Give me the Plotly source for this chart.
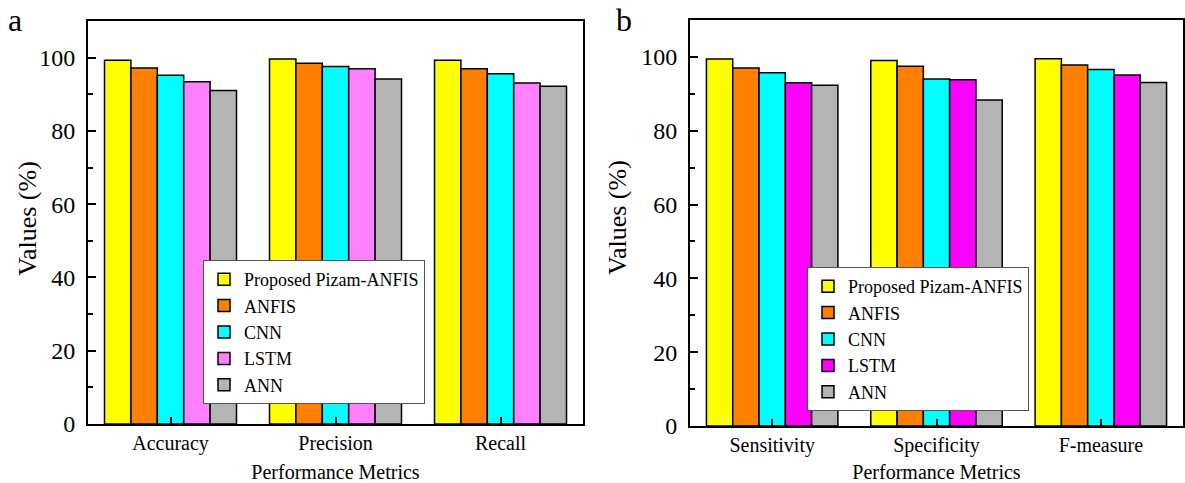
import plotly.graph_objects as go

metrics_a = ["Accuracy", "Precision", "Recall"]
metrics_b = ["Sensitivity", "Specificity", "F-measure"]
models = ["Proposed Pizam-ANFIS", "ANFIS", "CNN", "LSTM", "ANN"]

values_a = {
    "Proposed Pizam-ANFIS": [99.3, 99.6, 99.3],
    "ANFIS": [97.2, 98.5, 97.0],
    "CNN": [95.2, 97.6, 95.6],
    "LSTM": [93.4, 97.0, 93.1],
    "ANN": [91.0, 94.2, 92.2],
}
values_b = {
    "Proposed Pizam-ANFIS": [99.4, 99.0, 99.5],
    "ANFIS": [97.0, 97.5, 97.8],
    "CNN": [95.7, 94.0, 96.6],
    "LSTM": [93.0, 93.8, 95.1],
    "ANN": [92.3, 88.3, 93.1],
}

colors_a = ["#FFFF00", "#FF8000", "#00FFFF", "#FF80FF", "#B4B4B4"]
colors_b = ["#FFFF00", "#FF8000", "#00FFFF", "#FF00FF", "#B4B4B4"]

FONT = "Liberation Serif"
W, H = 1185, 483

fig = go.Figure()
for m, c in zip(models, colors_a):
    fig.add_trace(go.Bar(x=metrics_a, y=values_a[m], name=m, marker_color=c,
                         marker_line=dict(color="black", width=1.5),
                         xaxis="x", yaxis="y", legend="legend"))
for m, c in zip(models, colors_b):
    fig.add_trace(go.Bar(x=metrics_b, y=values_b[m], name=m, marker_color=c,
                         marker_line=dict(color="black", width=1.5),
                         xaxis="x2", yaxis="y2", legend="legend2"))

def xax(domain, anchor):
    return dict(domain=domain, anchor=anchor, type="category", range=[-0.5, 2.5],
                showline=True, linecolor="black", linewidth=2, mirror=True,
                ticks="inside", ticklen=7, tickwidth=2, tickcolor="black",
                tickfont=dict(family=FONT, size=20, color="black"),
                title=dict(text="Performance Metrics", font=dict(family=FONT, size=20, color="black"), standoff=12),
                showgrid=False, zeroline=False, automargin=False, layer="above traces")

def xminor(domain, anchor, overlay):
    # boundary (minor) ticks between the category groups
    return dict(domain=domain, anchor=anchor, overlaying=overlay, type="linear", range=[-0.5, 2.5],
                tickvals=[0.5, 1.5], ticks="inside", ticklen=4, tickwidth=2, tickcolor="black",
                showticklabels=False, showline=False, showgrid=False, zeroline=False,
                layer="above traces")

def yax(domain, anchor):
    return dict(domain=domain, anchor=anchor, range=[0, 110], dtick=20, tick0=0,
                showline=True, linecolor="black", linewidth=2, mirror=True,
                ticks="inside", ticklen=8, tickwidth=2, tickcolor="black",
                minor=dict(dtick=10, ticks="inside", ticklen=5, tickwidth=2, tickcolor="black"),
                tickfont=dict(family=FONT, size=24, color="black"),
                ticklabelstandoff=6,
                showgrid=False, zeroline=False, automargin=False)

ydom = [1 - 424 / H, 1 - 21 / H]
ydom2 = [1 - 426 / H, 1 - 20 / H]

leg_common = dict(font=dict(family=FONT, size=18, color="black"), bgcolor="white",
                  bordercolor="#555555", borderwidth=1, xanchor="left", yanchor="middle",
                  tracegroupgap=0, itemwidth=30)

fig.update_layout(
    width=W, height=H, margin=dict(l=0, r=0, t=0, b=0),
    paper_bgcolor="white", plot_bgcolor="white",
    font=dict(family=FONT, color="black"),
    barmode="group", bargap=0.2, bargroupgap=0,
    xaxis=xax([88 / W, 583 / W], "y"),
    yaxis=yax(ydom, "x"),
    xaxis2=xax([690 / W, 1183 / W], "y2"),
    yaxis2=yax(ydom2, "x2"),
    xaxis3=xminor([88 / W, 583 / W], "y", "x"),
    xaxis4=xminor([690 / W, 1183 / W], "y2", "x2"),
    legend=dict(x=203 / W, y=1 - 332 / H, **leg_common),
    legend2=dict(x=807 / W, y=1 - 339 / H, **leg_common),
    annotations=[
        dict(text="a", x=6 / W, y=1 - 0 / H, xref="paper", yref="paper", xanchor="left", yanchor="top",
             showarrow=False, font=dict(family=FONT, size=32, color="black")),
        dict(text="b", x=614 / W, y=1 - 0 / H, xref="paper", yref="paper", xanchor="left", yanchor="top",
             showarrow=False, font=dict(family=FONT, size=32, color="black")),
        dict(text="Values (%)", x=27 / W, y=1 - 219 / H, xref="paper", yref="paper", textangle=-90,
             xanchor="center", yanchor="middle", showarrow=False,
             font=dict(family=FONT, size=26, color="black")),
        dict(text="Values (%)", x=617 / W, y=1 - 218 / H, xref="paper", yref="paper", textangle=-90,
             xanchor="center", yanchor="middle", showarrow=False,
             font=dict(family=FONT, size=26, color="black")),
    ],
)

fig.write_html("out.html")
